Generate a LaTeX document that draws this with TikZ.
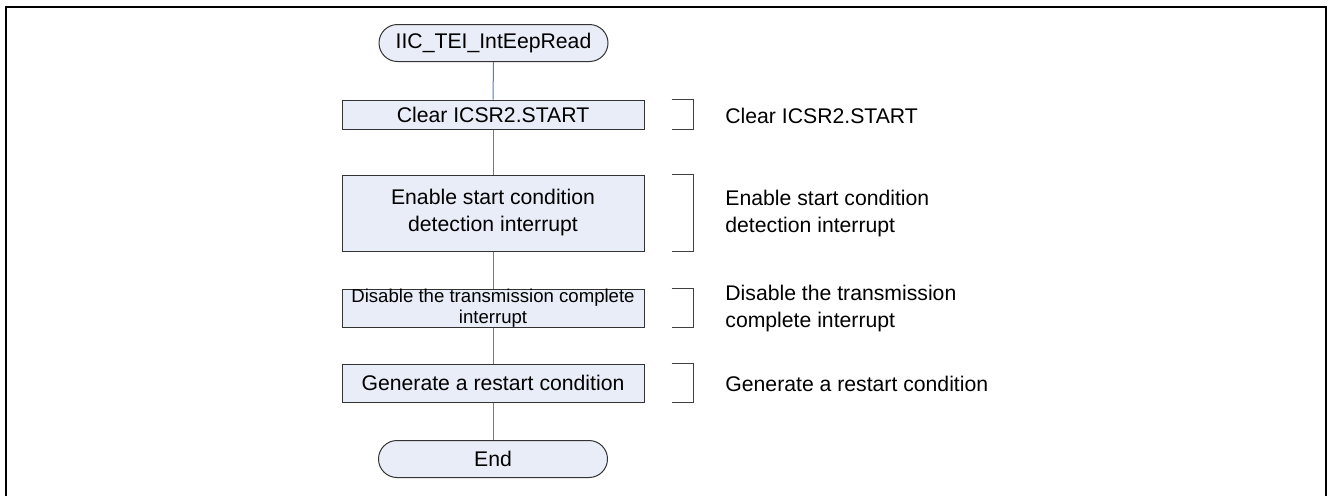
\documentclass[tikz,border=0pt]{standalone}
\usepackage{fontspec}
\setmainfont{Liberation Sans}
\begin{document}
\begin{tikzpicture}[x=0.5pt,y=-0.5pt,
  every node/.style={inner sep=0pt, font=\fontsize{10.6}{13.5}\selectfont},
  proc/.style={draw=black!80, fill=boxfill, line width=0.5pt, minimum width=151pt, align=center},
  term/.style={draw=black!80, fill=boxfill, line width=0.5pt, minimum width=114.5pt, minimum height=18.5pt, rounded corners=9.25pt, align=center},
  flow/.style={draw=flowblue, line width=0.5pt},
  brk/.style={draw=black!75, line width=0.5pt},
  note/.style={anchor=west, align=left}]
\definecolor{boxfill}{HTML}{E8EDF7}
\definecolor{flowblue}{HTML}{4F81BD}
\clip (0,0) rectangle (1328,495);
\fill[white] (0,0) rectangle (1328,495);
\draw[line width=1pt] (6,7) rectangle (1326,510);
% flow nodes
\node[term] (start) at (493.5,43) {IIC\_TEI\_IntEepRead};
\node[proc, minimum height=14.5pt] (b1) at (493,114.5) {Clear ICSR2.START};
\node[proc, minimum height=38pt] (b2) at (493,213) {Enable start condition\\detection interrupt};
\node[proc, minimum height=19pt, font=\fontsize{9.3}{10.2}\selectfont] (b3) at (493,308) {Disable the transmission complete\\interrupt};
\node[proc, minimum height=19pt] (b4) at (493,383) {Generate a restart condition};
\node[term] (end) at (493,459) {End};
% connectors
\draw[flow] (start.south) -- (b1.north);
\draw[flow] (b1.south) -- (b2.north);
\draw[flow] (b2.south) -- (b3.north);
\draw[flow] (b3.south) -- (b4.north);
\draw[flow] (b4.south) -- (end.north);
% brackets and notes
\foreach \b in {b1,b2,b3,b4}{
  \draw[brk] ([xshift=13.5pt]\b.north east) -- ++(11pt,0) |- ([xshift=13.5pt]\b.south east);
}
\node[note] (n1) at (725,116) {Clear ICSR2.START};
\node[note] (n2) at (725,214) {Enable start condition\\detection interrupt};
\node[note] (n3) at (725,309) {Disable the transmission\\complete interrupt};
\node[note] (n4) at (725,384) {Generate a restart condition};
\end{tikzpicture}
\end{document}
